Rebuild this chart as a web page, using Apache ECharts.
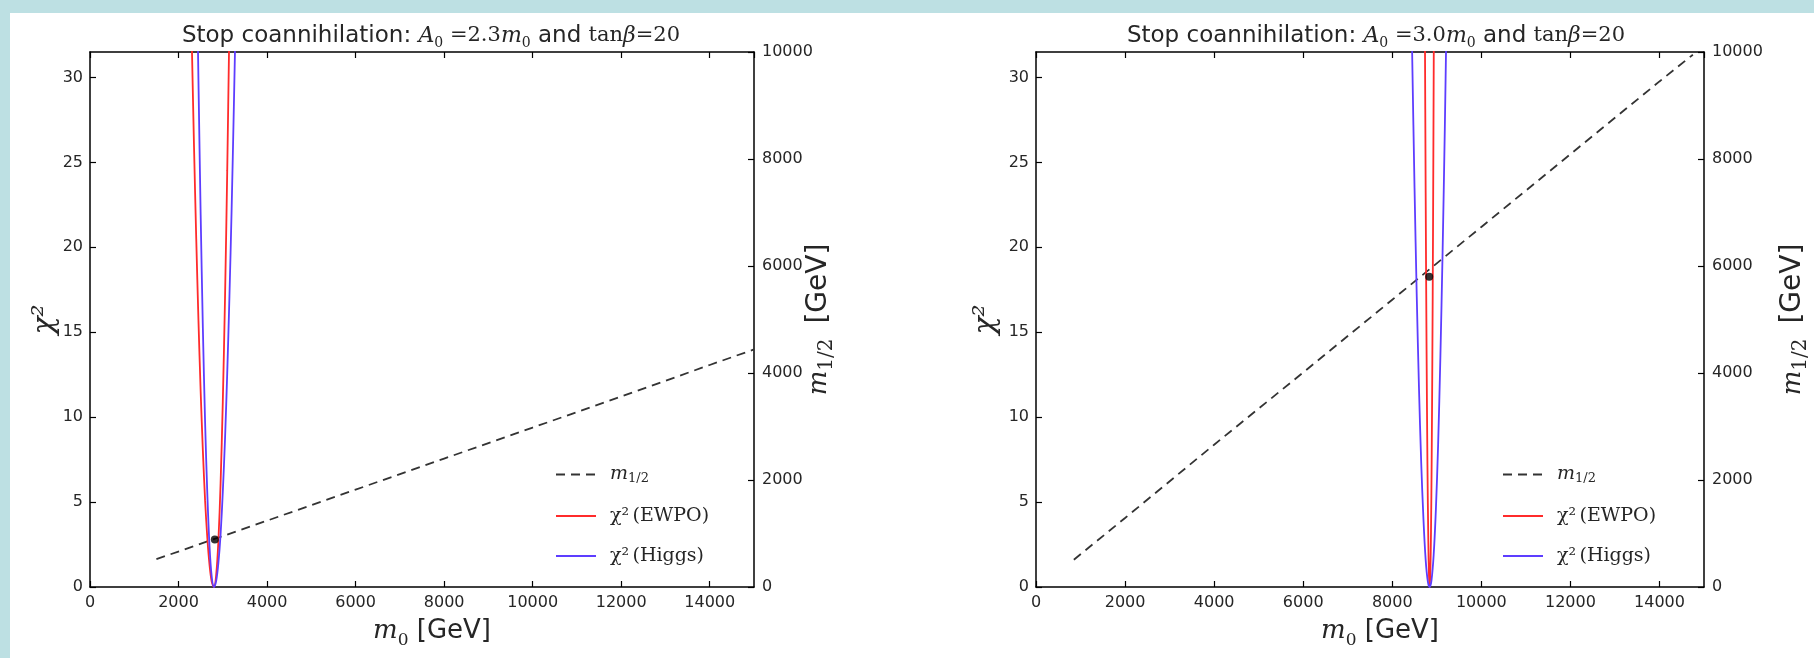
<!DOCTYPE html>
<html>
<head>
<meta charset="utf-8">
<script src="https://cdn.jsdelivr.net/npm/echarts@6/dist/echarts.min.js"></script>
<style>
  html, body { margin: 0; padding: 0; width: 1814px; height: 658px; background: #bde0e3; overflow: hidden; }
  #paper { position: absolute; left: 10px; top: 13px; right: 0; bottom: 0; background: #ffffff; }
  #chart { position: absolute; left: 0; top: 0; width: 1814px; height: 658px; }
</style>
</head>
<body>
<div id="paper"></div>
<div id="chart"></div>
<script>
// ---------------- data ----------------
const xTickValues = [0, 2000, 4000, 6000, 8000, 10000, 12000, 14000];
const chi2TickValues = [0, 5, 10, 15, 20, 25, 30];
const m12TickValues = [0, 2000, 4000, 6000, 8000, 10000];

// Left panel: A0 = 2.3 m0
const leftM12_m0  = [1500, 4000, 6000, 8000, 10000, 12000, 14000, 15000];
const leftM12_val = [520, 1240, 1820, 2400, 2980, 3560, 4150, 4440];
const leftEwpo_m0   = [2300, 2350, 2400, 2450, 2500, 2550, 2600, 2650, 2700, 2750, 2800, 2850, 2900, 2950, 3000, 3050, 3100, 3150];
const leftEwpo_chi2 = [32.0, 25.9, 20.5, 15.7, 11.5, 8.0, 5.1, 2.9, 1.3, 0.3, 0.0, 0.7, 2.7, 6.1, 10.9, 17.0, 24.5, 33.3];
const leftHiggs_m0   = [2430, 2450, 2500, 2550, 2600, 2650, 2700, 2750, 2800, 2850, 2900, 2950, 3000, 3050, 3100, 3150, 3200, 3250, 3290];
const leftHiggs_chi2 = [33.3, 29.8, 21.9, 15.2, 9.7, 5.5, 2.4, 0.6, 0.0, 0.35, 1.4, 3.1, 5.6, 8.7, 12.6, 17.1, 22.3, 28.3, 33.5];
const leftBest = [2820, 890];

// Right panel: A0 = 3.0 m0
const rightM12_m0  = [850, 2000, 4000, 6000, 8000, 10000, 12000, 14000, 14750];
const rightM12_val = [510, 1290, 2660, 4010, 5370, 6730, 8090, 9450, 9950];
const rightEwpo_m0   = [8730, 8750, 8770, 8790, 8810, 8825, 8840, 8855, 8870, 8885, 8900, 8915, 8930, 8940];
const rightEwpo_chi2 = [34.6, 23.2, 14.0, 7.2, 2.6, 0.64, 0.0, 0.84, 3.3, 7.5, 13.4, 20.9, 30.1, 37.2];
const rightHiggs_m0   = [8430, 8450, 8500, 8550, 8600, 8650, 8700, 8750, 8800, 8840, 8880, 8930, 8980, 9030, 9080, 9130, 9180, 9220];
const rightHiggs_chi2 = [34.1, 30.9, 23.5, 17.1, 11.7, 7.3, 4.0, 1.6, 0.3, 0.0, 0.37, 1.9, 4.6, 8.4, 13.5, 19.7, 27.0, 33.8];
const rightBest = [8830, 5800];

const titleA0 = ['2.3', '3.0'];
const legendNames = ['m12', 'ewpo', 'higgs'];

// ---------------- helpers ----------------
const zip = (xs, ys) => xs.map((x, i) => [x, ys[i]]);
const SANS = 'DejaVu Sans';
const SERIF = 'DejaVu Serif';
const TXT = '#262626';

const grids = [
  { left: 90, top: 52, width: 664, height: 535 },
  { left: 1036, top: 52, width: 668, height: 535 }
];

function titleText(a) {
  return 'Stop coannihilation: {i|A}{s|0}{r| =' + a + '}{i|m}{s|0}{t| and }{r|tan}{i|β}{r|=20}';
}
const titleRich = {
  t: { fontFamily: SANS, fontSize: 23, lineHeight: 28, color: TXT },
  i: { fontFamily: SERIF, fontStyle: 'italic', fontSize: 22, lineHeight: 28, color: TXT },
  r: { fontFamily: SERIF, fontSize: 21, lineHeight: 28, color: TXT },
  s: { fontFamily: SERIF, fontSize: 14, lineHeight: 16, verticalAlign: 'bottom', color: TXT }
};

const axisNameRich = {
  i: { fontFamily: SERIF, fontStyle: 'italic', fontSize: 26, lineHeight: 36, color: TXT },
  ip: { fontFamily: SERIF, fontStyle: 'italic', fontSize: 26, lineHeight: 36, color: TXT, padding: [0, 0, 0, 20] },
  s: { fontFamily: SERIF, fontSize: 17, lineHeight: 22, verticalAlign: 'bottom', color: TXT },
  s2: { fontFamily: SERIF, fontSize: 20, lineHeight: 22, verticalAlign: 'bottom', color: TXT },
  t: { fontFamily: SANS, fontSize: 26, lineHeight: 36, color: TXT },
  t2: { fontFamily: SANS, fontSize: 28, lineHeight: 36, color: TXT, padding: [0, 0, 0, 6] },
  c: { fontFamily: SERIF, fontStyle: 'italic', fontSize: 30, lineHeight: 36, color: TXT }
};

const axisLineStyle = { show: true, onZero: false, lineStyle: { color: '#000', width: 1.5 } };
const tickStyle = { show: true, inside: true, length: 6, lineStyle: { color: '#000', width: 1.2 } };
const labelStyle = { fontFamily: SANS, fontSize: 16, color: TXT };

const chiGap = [27, 32];
const m12Gap = [47, 71];

const xAxes = [];
const yAxes = [];
[0, 1].forEach(g => {
  xAxes.push({
    type: 'value', gridIndex: g, position: 'bottom', min: 0, max: 15000, interval: 2000,
    axisLine: axisLineStyle, axisTick: tickStyle, splitLine: { show: false },
    axisLabel: Object.assign({ margin: 8, showMaxLabel: false, formatter: v => xTickValues.includes(v) ? String(v) : '' }, labelStyle),
    name: '{ip|m}{s|0}{t| [GeV]}', nameLocation: 'middle', nameGap: 26, nameMoveOverlap: false,
    nameTextStyle: { rich: axisNameRich }
  });
  xAxes.push({
    type: 'value', gridIndex: g, position: 'top', min: 0, max: 15000, interval: 2000,
    axisLine: axisLineStyle, axisTick: tickStyle, splitLine: { show: false },
    axisLabel: { show: false }
  });
  yAxes.push({
    type: 'value', gridIndex: g, position: 'left', min: 0, max: 31.5, interval: 5,
    axisLine: axisLineStyle, axisTick: tickStyle, splitLine: { show: false },
    axisLabel: Object.assign({ margin: 7, showMaxLabel: false, formatter: v => chi2TickValues.includes(v) ? String(v) : '' }, labelStyle),
    name: '{c|χ²}', nameLocation: 'middle', nameGap: chiGap[g], nameMoveOverlap: false,
    nameTextStyle: { rich: axisNameRich }
  });
  yAxes.push({
    type: 'value', gridIndex: g, position: 'right', min: 0, max: 10000, interval: 2000,
    axisLine: axisLineStyle, axisTick: tickStyle, splitLine: { show: false },
    axisLabel: Object.assign({ margin: 8, formatter: v => m12TickValues.includes(v) ? String(v) : '' }, labelStyle),
    name: '{i|m}{s2|1/2}{t2| [GeV]}', nameLocation: 'middle', nameGap: m12Gap[g], nameMoveOverlap: false,
    nameTextStyle: { rich: axisNameRich }
  });
});

const RED = '#ff2b2b';
const BLUE = '#5d3dff';
const DASH = '#333333';

function panelSeries(g, m12x, m12y, ex, ey, hx, hy, best) {
  const xi = g * 2, yl = g * 2, yr = g * 2 + 1;
  return [
    { name: 'm12', type: 'line', xAxisIndex: xi, yAxisIndex: yr, data: zip(m12x, m12y),
      showSymbol: false, symbol: 'none', lineStyle: { color: DASH, width: 1.8, type: [9, 6] }, itemStyle: { color: DASH }, z: 2 },
    { name: 'ewpo', type: 'line', xAxisIndex: xi, yAxisIndex: yl, data: zip(ex, ey), smooth: 0.3,
      showSymbol: false, symbol: 'none', lineStyle: { color: RED, width: 1.8 }, itemStyle: { color: RED }, z: 3 },
    { name: 'higgs', type: 'line', xAxisIndex: xi, yAxisIndex: yl, data: zip(hx, hy), smooth: 0.3,
      showSymbol: false, symbol: 'none', lineStyle: { color: BLUE, width: 1.8 }, itemStyle: { color: BLUE }, z: 3 },
    { name: 'best', type: 'scatter', xAxisIndex: xi, yAxisIndex: yr, data: [best],
      symbol: 'circle', symbolSize: 8, itemStyle: { color: '#000' }, z: 5 }
  ];
}

const legendRich = {
  i: { fontFamily: SERIF, fontStyle: 'italic', fontSize: 19, lineHeight: 22, color: TXT, padding: [0, 0, 0, 9] },
  s: { fontFamily: SERIF, fontSize: 13, lineHeight: 14, verticalAlign: 'bottom', color: TXT },
  r: { fontFamily: SERIF, fontSize: 19, lineHeight: 22, color: TXT },
  c: { fontFamily: SERIF, fontSize: 19, lineHeight: 22, color: TXT, padding: [0, 0, 0, 9] }
};
function legendFormatter(n) {
  if (n === 'm12') return '{i|m}{s|1/2}';
  if (n === 'ewpo') return '{c|χ²} {r|(EWPO)}';
  return '{c|χ²} {r|(Higgs)}';
}
function makeLegend(left) {
  return {
    orient: 'vertical', left: left, top: 465, padding: 0, itemWidth: 40, itemHeight: 14, itemGap: 21,
    data: legendNames, formatter: legendFormatter, selectedMode: false,
    itemStyle: { opacity: 0 },
    textStyle: { rich: legendRich }
  };
}

const option = {
  animation: false,
  backgroundColor: 'transparent',
  title: [
    { text: titleText(titleA0[0]), left: 431, top: 22, textAlign: 'center', padding: 0,
      textStyle: { fontFamily: SANS, fontSize: 23, fontWeight: 'normal', color: TXT, rich: titleRich } },
    { text: titleText(titleA0[1]), left: 1376, top: 22, textAlign: 'center', padding: 0,
      textStyle: { fontFamily: SANS, fontSize: 23, fontWeight: 'normal', color: TXT, rich: titleRich } }
  ],
  grid: grids,
  xAxis: xAxes,
  yAxis: yAxes,
  legend: [makeLegend(555), makeLegend(1502)],
  series: [].concat(
    panelSeries(0, leftM12_m0, leftM12_val, leftEwpo_m0, leftEwpo_chi2, leftHiggs_m0, leftHiggs_chi2, leftBest),
    panelSeries(1, rightM12_m0, rightM12_val, rightEwpo_m0, rightEwpo_chi2, rightHiggs_m0, rightHiggs_chi2, rightBest)
  )
};

const chart = echarts.init(document.getElementById('chart'), null, { renderer: 'canvas', width: 1814, height: 658 });
chart.setOption(option);
</script>
</body>
</html>
